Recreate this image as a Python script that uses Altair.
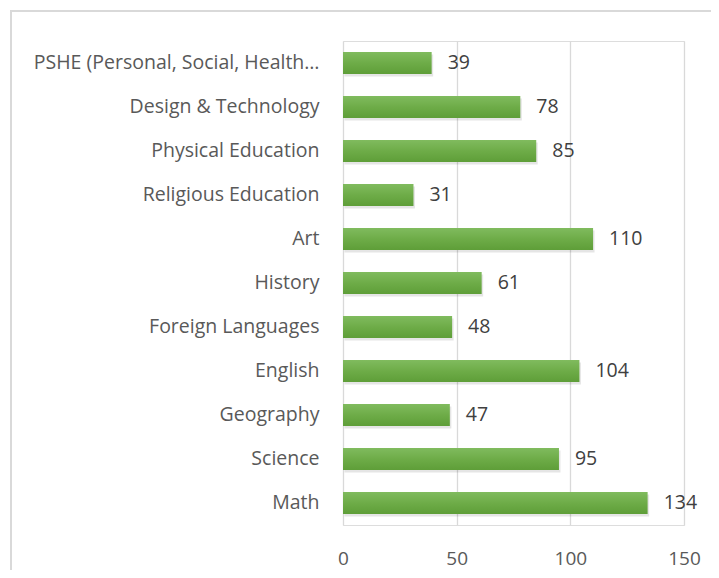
import altair as alt
import pandas as pd

subjects = [
    "PSHE (Personal, Social, Health…",
    "Design & Technology",
    "Physical Education",
    "Religious Education",
    "Art",
    "History",
    "Foreign Languages",
    "English",
    "Geography",
    "Science",
    "Math",
]
counts = [39, 78, 85, 31, 110, 61, 48, 104, 47, 95, 134]
x_ticks = [0, 50, 100, 150]

df = pd.DataFrame({"subject": subjects, "count": counts})

FONT = "Open Sans"

y_enc = alt.Y(
    "subject:N",
    sort=subjects,
    scale=alt.Scale(paddingInner=0.5, paddingOuter=0.25),
    axis=alt.Axis(
        title=None, domain=False, ticks=False, labelPadding=24,
        labelFontSize=19.5, labelColor="#595959", labelFont=FONT, labelLimit=400,
    ),
)
x_enc = alt.X(
    "count:Q",
    scale=alt.Scale(domain=[0, 150], nice=False),
    axis=alt.Axis(
        title=None, values=x_ticks, domain=False, ticks=False,
        grid=True, gridColor="#d9d9d9", gridWidth=1.3, labelFlush=False,
        labelPadding=24, labelFontSize=19, labelColor="#595959", labelFont=FONT,
    ),
)

base = alt.Chart(df)

border = base.mark_rect(fill=None, stroke="#d9d9d9", strokeWidth=1.5).encode(
    x=alt.value(-332), x2=alt.value(400), y=alt.value(-30), y2=alt.value(600)
)

shadow = base.mark_bar(color="#000000", opacity=0.10, yOffset=2.5, xOffset=1.5).encode(
    x=x_enc, y=y_enc
)

bars = base.mark_bar(
    color=alt.Gradient(
        gradient="linear",
        stops=[
            alt.GradientStop(color="#80bb5e", offset=0),
            alt.GradientStop(color="#6eac48", offset=0.5),
            alt.GradientStop(color="#5e9e38", offset=1),
        ],
        x1=0, x2=0, y1=0, y2=1,
    )
).encode(x=x_enc, y=y_enc)

labels = base.mark_text(
    align="left", baseline="middle", dx=16, fontSize=19.5, font=FONT, color="#404040"
).encode(x=x_enc, y=y_enc, text="count:Q")

chart = (
    alt.layer(border, shadow, bars, labels)
    .properties(
        width=341, height=484,
        autosize=alt.AutoSizeParams(type="none"),
        padding={"left": 335, "top": 33, "right": 27, "bottom": 45},
    )
    .configure_view(stroke=None)
    .configure(background="white")
)

chart.save("out.html", embed_options={"renderer": "svg", "actions": False})
